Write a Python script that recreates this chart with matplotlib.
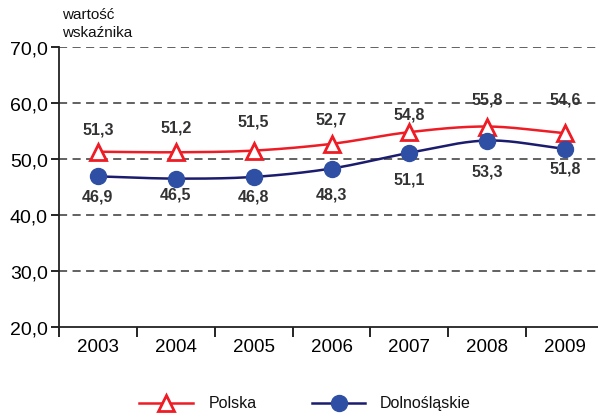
import numpy as np
import matplotlib
matplotlib.use("Agg")
import matplotlib.pyplot as plt
from matplotlib.lines import Line2D

plt.rcParams['font.family'] = ['Liberation Sans', 'DejaVu Sans']

years = ["2003", "2004", "2005", "2006", "2007", "2008", "2009"]
polska = [51.3, 51.2, 51.5, 52.7, 54.8, 55.8, 54.6]
dolnoslaskie = [46.9, 46.5, 46.8, 48.3, 51.1, 53.3, 51.8]
y_ticks = [20, 30, 40, 50, 60, 70]

# vertical label offsets in points (positive = above the point)
polska_off = [16, 18, 21, 18, 13, 20, 25]
dolno_off = [-14, -11, -14, -18, -19, -22, -14]

RED = "#EE1C25"
NAVY = "#1B1C6E"
BLUE = "#2E4FA3"
TXT = "#333333"


def smooth(x, y, n=30):
    """Cardinal (Catmull-Rom) spline through the points."""
    x = np.asarray(x, float)
    y = np.asarray(y, float)
    px = np.concatenate([[2 * x[0] - x[1]], x, [2 * x[-1] - x[-2]]])
    py = np.concatenate([[2 * y[0] - y[1]], y, [2 * y[-1] - y[-2]]])
    xs, ys = [], []
    t = np.linspace(0, 1, n)
    for i in range(1, len(px) - 2):
        p0, p1, p2, p3 = py[i - 1], py[i], py[i + 1], py[i + 2]
        q0, q1, q2, q3 = px[i - 1], px[i], px[i + 1], px[i + 2]
        t2, t3 = t * t, t * t * t
        ys.append(0.5 * (2 * p1 + (-p0 + p2) * t + (2 * p0 - 5 * p1 + 4 * p2 - p3) * t2
                         + (-p0 + 3 * p1 - 3 * p2 + p3) * t3))
        xs.append(0.5 * (2 * q1 + (-q0 + q2) * t + (2 * q0 - 5 * q1 + 4 * q2 - q3) * t2
                         + (-q0 + 3 * q1 - 3 * q2 + q3) * t3))
    return np.concatenate(xs), np.concatenate(ys)


fig = plt.figure(figsize=(5.98, 4.14), dpi=100)
ax = fig.add_axes([59 / 598, 86 / 414, 545 / 598, 280 / 414])

x = np.arange(len(years))
ax.set_xlim(-0.5, len(years) - 0.5)
ax.set_ylim(20, 70)

for v in y_ticks[1:]:
    ax.axhline(v, color="#555555", lw=1.3, ls=(0, (4.5, 3)), zorder=1)

sx, sy = smooth(x, polska)
ax.plot(sx, sy, color=RED, lw=1.8, zorder=3)
sx, sy = smooth(x, dolnoslaskie)
ax.plot(sx, sy, color=NAVY, lw=1.8, zorder=3)

ax.plot(x, polska, ls="none", marker="^", ms=11, mfc="white", mec=RED, mew=2, zorder=4)
ax.plot(x, dolnoslaskie, ls="none", marker="o", ms=11.5, mfc=BLUE, mec=BLUE, zorder=4)


def fmt(v):
    return f"{v:.1f}".replace(".", ",")


for xi, v, off in zip(x, polska, polska_off):
    ax.annotate(fmt(v), (xi, v), xytext=(0, off), textcoords="offset points",
                ha="center", va="center", fontsize=11.5, fontweight="bold", color=TXT, zorder=5)
for xi, v, off in zip(x, dolnoslaskie, dolno_off):
    ax.annotate(fmt(v), (xi, v), xytext=(0, off), textcoords="offset points",
                ha="center", va="center", fontsize=11.5, fontweight="bold", color=TXT, zorder=5)

ax.set_yticks(y_ticks)
ax.set_yticklabels([fmt(v) for v in y_ticks], fontsize=14)
ax.set_xticks(np.arange(len(years) + 1) - 0.5, minor=False)
ax.set_xticklabels([""] * (len(years) + 1))
ax.set_xticks(x, minor=True)
ax.set_xticklabels(years, minor=True, fontsize=13.5)
ax.tick_params(axis="x", which="major", length=7, width=1.2, direction="out")
ax.tick_params(axis="x", which="minor", length=0, pad=8)
ax.tick_params(axis="y", length=6, width=1.2, direction="out", pad=2)

for s in ["top", "right"]:
    ax.spines[s].set_visible(False)
for s in ["left", "bottom"]:
    ax.spines[s].set_linewidth(1.3)
    ax.spines[s].set_color("#222222")

fig.text(62 / 598, 1 - 24 / 414, "wartość\nwskaźnika", fontsize=11, va="center",
         ha="left", linespacing=1.3, color="#111111")

# legend
ly = 1 - 404 / 414
fig.add_artist(Line2D([139 / 598, 193 / 598], [ly, ly], color=RED, lw=1.8))
fig.add_artist(Line2D([166 / 598], [ly], marker="^", ms=11, mfc="white", mec=RED, mew=2))
fig.text(209 / 598, ly, "Polska", fontsize=11.5, va="center", ha="left", color="#111111")
fig.add_artist(Line2D([312 / 598, 365 / 598], [ly, ly], color=NAVY, lw=1.8))
fig.add_artist(Line2D([339 / 598], [ly], marker="o", ms=11.5, mfc=BLUE, mec=BLUE))
fig.text(380 / 598, ly, "Dolnośląskie", fontsize=11.5, va="center", ha="left", color="#111111")

fig.savefig("out.png", dpi=100)
